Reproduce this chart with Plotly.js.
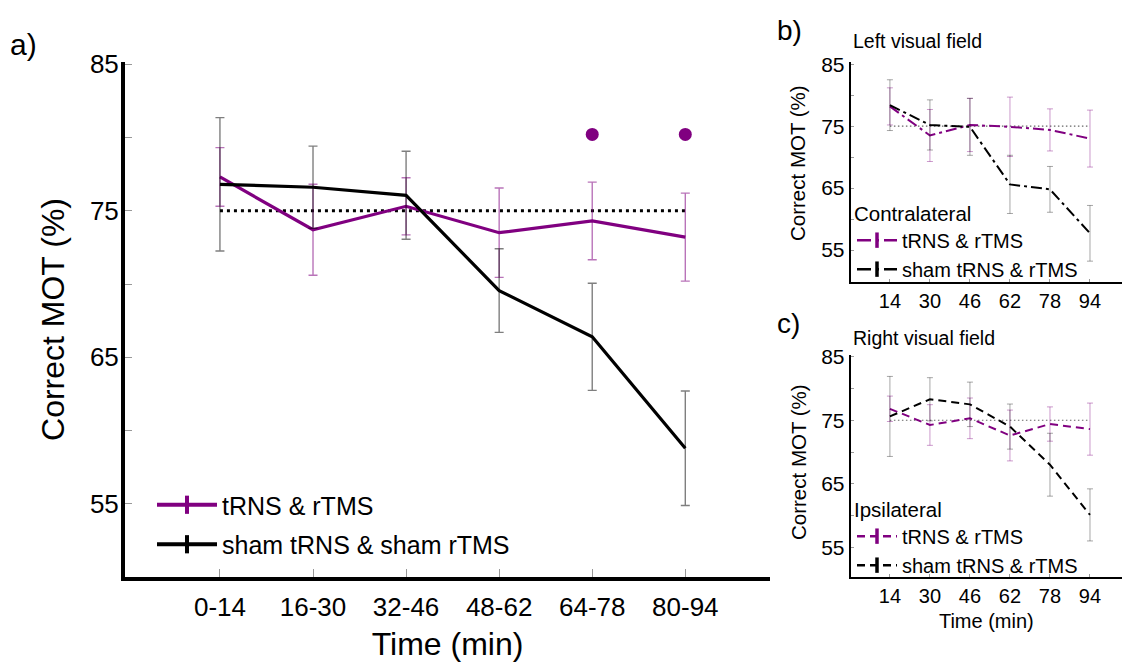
<!DOCTYPE html>
<html>
<head>
<meta charset="utf-8">
<script src="https://cdn.plot.ly/plotly-3.0.1.min.js"></script>
<style>html,body{margin:0;padding:0;background:#fff;}#chart{width:1126px;height:664px;}</style>
</head>
<body>
<div id="chart"></div>
<script>
// ---- data (panel a) ----
const timeLabelsA = ['0-14', '16-30', '32-46', '48-62', '64-78', '80-94'];
const aTrnsMean = [77.3, 73.7, 75.3, 73.5, 74.3, 73.2];
const aTrnsErr = [2.0, 3.1, 1.95, 3.05, 2.65, 3.0];
const aShamMean = [76.8, 76.6, 76.05, 69.55, 66.4, 58.8];
const aShamErr = [4.55, 2.8, 3.0, 2.85, 3.65, 3.9];
const sigLabels = ['64-78', '80-94'];
const sigValues = [80.2, 80.2];
const chanceLevel = 75;

// ---- data (panel b: left visual field, contralateral) ----
const timeLabelsBC = ['14', '30', '46', '62', '78', '94'];
const bTrnsMean = [78.2, 73.5, 75.2, 74.9, 74.4, 73.0];
const bTrnsErr = [3.0, 4.2, 4.3, 4.8, 3.4, 4.6];
const bShamMean = [78.4, 75.2, 74.9, 65.6, 64.8, 57.7];
const bShamErr = [4.1, 4.05, 4.6, 4.7, 3.7, 4.5];

// ---- data (panel c: right visual field, ipsilateral) ----
const cTrnsMean = [76.8, 74.25, 75.3, 72.6, 74.4, 73.6];
const cTrnsErr = [2.0, 3.2, 3.2, 4.0, 2.7, 4.1];
const cShamMean = [75.6, 78.3, 77.5, 74.0, 68.0, 60.1];
const cShamErr = [6.3, 3.4, 3.5, 3.55, 4.95, 4.1];

const legendNames = ['tRNS & rTMS', 'sham tRNS & sham rTMS', 'sham tRNS & rTMS'];
const yTickVals = [55, 60, 65, 70, 75, 80, 85];
const yTickText = ['55', '', '65', '', '75', '', '85'];

const PURPLE = '#800080';
const FONT = 'Liberation Sans, Arial, Helvetica, sans-serif';
const W = 1126, H = 664;
const px = v => v / W;
const py = v => 1 - v / H;

function mainTrace(xs, ys, errs, color, errColor, width, dash, xa, ya, capW, thick) {
  return {
    x: xs, y: ys, type: 'scatter', mode: 'lines', xaxis: xa, yaxis: ya,
    line: {color: color, width: width, dash: dash},
    error_y: {type: 'data', array: errs, visible: true, color: errColor, thickness: thick, width: capW},
    showlegend: false, hoverinfo: 'skip'
  };
}
function chanceTrace(xs, xa, ya, width, dash, color) {
  return {
    x: xs, y: xs.map(() => chanceLevel), type: 'scatter', mode: 'lines', xaxis: xa, yaxis: ya,
    line: {color: color, width: width, dash: dash}, showlegend: false, hoverinfo: 'skip'
  };
}
function legendTrace(name, color, dash, xa, ya, lg, grp, lw, msize, mlw) {
  return {
    x: [null], y: [null], type: 'scatter', mode: 'lines+markers', name: name,
    xaxis: xa, yaxis: ya, legend: lg, legendgroup: grp,
    line: {color: color, width: lw, dash: dash},
    marker: {symbol: 'line-ns-open', size: msize, color: color, line: {color: color, width: mlw}},
    showlegend: true
  };
}

const data = [
  // panel a
  chanceTrace(timeLabelsA, 'x', 'y', 3, '3px,4px', '#000'),
  mainTrace(timeLabelsA, aTrnsMean, aTrnsErr, PURPLE, 'rgba(128,0,128,0.55)', 3.2, 'solid', 'x', 'y', 4.5, 1.4),
  mainTrace(timeLabelsA, aShamMean, aShamErr, '#000', 'rgba(0,0,0,0.5)', 3.2, 'solid', 'x', 'y', 4.5, 1.4),
  {x: sigLabels, y: sigValues, type: 'scatter', mode: 'markers', xaxis: 'x', yaxis: 'y',
   marker: {color: PURPLE, size: 13}, showlegend: false, hoverinfo: 'skip'},
  legendTrace(legendNames[0], PURPLE, 'solid', 'x', 'y', 'legend', 'a1', 4, 13, 4),
  legendTrace(legendNames[1], '#000', 'solid', 'x', 'y', 'legend', 'a2', 4, 13, 4),

  // panel b
  chanceTrace(timeLabelsBC, 'x2', 'y2', 1.2, '1.5px,2.5px', '#666'),
  mainTrace(timeLabelsBC, bTrnsMean, bTrnsErr, PURPLE, 'rgba(128,0,128,0.4)', 2, '11px,4px,3px,4px', 'x2', 'y2', 3, 1),
  mainTrace(timeLabelsBC, bShamMean, bShamErr, '#000', 'rgba(0,0,0,0.35)', 2, '11px,4px,3px,4px', 'x2', 'y2', 3, 1),
  legendTrace(legendNames[0], PURPLE, '14px,5px,3px,5px', 'x2', 'y2', 'legend2', 'b1', 2.5, 11, 3.5),
  legendTrace(legendNames[2], '#000', '14px,5px,3px,5px', 'x2', 'y2', 'legend2', 'b2', 2.5, 11, 3.5),

  // panel c
  chanceTrace(timeLabelsBC, 'x3', 'y3', 1.2, '1.5px,2.5px', '#666'),
  mainTrace(timeLabelsBC, cTrnsMean, cTrnsErr, PURPLE, 'rgba(128,0,128,0.4)', 2, '8px,5px', 'x3', 'y3', 3, 1),
  mainTrace(timeLabelsBC, cShamMean, cShamErr, '#000', 'rgba(0,0,0,0.35)', 2, '8px,5px', 'x3', 'y3', 3, 1),
  legendTrace(legendNames[0], PURPLE, '8px,5px', 'x3', 'y3', 'legend3', 'c1', 2.5, 11, 3.5),
  legendTrace(legendNames[2], '#000', '8px,5px', 'x3', 'y3', 'legend3', 'c2', 2.5, 11, 3.5)
];

const baseX = {
  type: 'category', showgrid: false, zeroline: false, showline: true, linecolor: '#000',
  ticks: 'inside', tickcolor: '#999', tickwidth: 1, fixedrange: true
};
const baseY = {
  showgrid: false, zeroline: false, showline: true, linecolor: '#000',
  tickmode: 'array', tickvals: yTickVals, ticktext: yTickText,
  ticks: 'inside', tickcolor: '#999', tickwidth: 1, fixedrange: true
};

const layout = {
  width: W, height: H, margin: {l: 0, r: 0, t: 0, b: 0},
  paper_bgcolor: '#fff', plot_bgcolor: '#fff',
  font: {family: FONT, color: '#000'},
  xaxis: Object.assign({}, baseX, {
    domain: [px(125), px(770)], range: [-1.02, 5.91], anchor: 'y',
    linewidth: 4, ticklen: 8,
    tickfont: {size: 26}, ticklabelstandoff: 4,
    title: {text: 'Time (min)', font: {size: 32}, standoff: 12}
  }),
  yaxis: Object.assign({}, baseY, {
    domain: [py(577), py(62)], range: [50.02, 85.14], anchor: 'x',
    linewidth: 4, ticklen: 7,
    tickfont: {size: 26}, ticklabelstandoff: -3,
    title: {text: 'Correct MOT (%)', font: {size: 32}, standoff: 17}
  }),
  xaxis2: Object.assign({}, baseX, {
    domain: [px(850.7), px(1122)], range: [-0.98, 5.8], anchor: 'y2',
    linewidth: 2, ticklen: 3, tickfont: {size: 20}
  }),
  yaxis2: Object.assign({}, baseY, {
    domain: [py(281.7), py(61.7)], range: [49.88, 85.42], anchor: 'x2',
    linewidth: 2, ticklen: 3, tickfont: {size: 21}
  }),
  xaxis3: Object.assign({}, baseX, {
    domain: [px(850.7), px(1122)], range: [-0.98, 5.8], anchor: 'y3',
    linewidth: 2, ticklen: 3, tickfont: {size: 20},
    title: {text: 'Time (min)', font: {size: 20}, standoff: 8}
  }),
  yaxis3: Object.assign({}, baseY, {
    domain: [py(576.7), py(355)], range: [50.37, 85.27], anchor: 'x3',
    linewidth: 2, ticklen: 3, tickfont: {size: 21}
  }),
  legend: {
    x: px(152), y: py(482), xanchor: 'left', yanchor: 'top',
    bgcolor: 'rgba(0,0,0,0)', font: {size: 25, family: FONT}, itemwidth: 60,
    tracegroupgap: 4
  },
  legend2: {
    x: px(852), y: py(194), xanchor: 'left', yanchor: 'top',
    bgcolor: 'rgba(0,0,0,0)', font: {size: 20, family: FONT}, itemwidth: 40,
    tracegroupgap: 0,
    title: {text: 'Contralateral', font: {size: 20.5, family: FONT}}
  },
  legend3: {
    x: px(852), y: py(490), xanchor: 'left', yanchor: 'top',
    bgcolor: 'rgba(0,0,0,0)', font: {size: 20, family: FONT}, itemwidth: 40,
    tracegroupgap: 0,
    title: {text: 'Ipsilateral', font: {size: 20.5, family: FONT}}
  },
  annotations: [
    {text: 'a)', x: px(8), y: py(45), xref: 'paper', yref: 'paper', xanchor: 'left', yanchor: 'middle', showarrow: false, font: {size: 30}},
    {text: 'b)', x: px(775), y: py(30), xref: 'paper', yref: 'paper', xanchor: 'left', yanchor: 'middle', showarrow: false, font: {size: 28}},
    {text: 'c)', x: px(775), y: py(323), xref: 'paper', yref: 'paper', xanchor: 'left', yanchor: 'middle', showarrow: false, font: {size: 28}},
    {text: 'Left visual field', x: px(851), y: py(41), xref: 'paper', yref: 'paper', xanchor: 'left', yanchor: 'middle', showarrow: false, font: {size: 19.5}},
    {text: 'Right visual field', x: px(851), y: py(338), xref: 'paper', yref: 'paper', xanchor: 'left', yanchor: 'middle', showarrow: false, font: {size: 19.5}},
    {text: 'Correct MOT (%)', x: px(798), y: py(163), xref: 'paper', yref: 'paper', xanchor: 'center', yanchor: 'middle', textangle: -90, showarrow: false, font: {size: 20.5}},
    {text: 'Correct MOT (%)', x: px(798), y: py(462), xref: 'paper', yref: 'paper', xanchor: 'center', yanchor: 'middle', textangle: -90, showarrow: false, font: {size: 20.5}}
  ],
  showlegend: true
};

Plotly.newPlot('chart', data, layout, {displayModeBar: false, staticPlot: true});
</script>
</body>
</html>
